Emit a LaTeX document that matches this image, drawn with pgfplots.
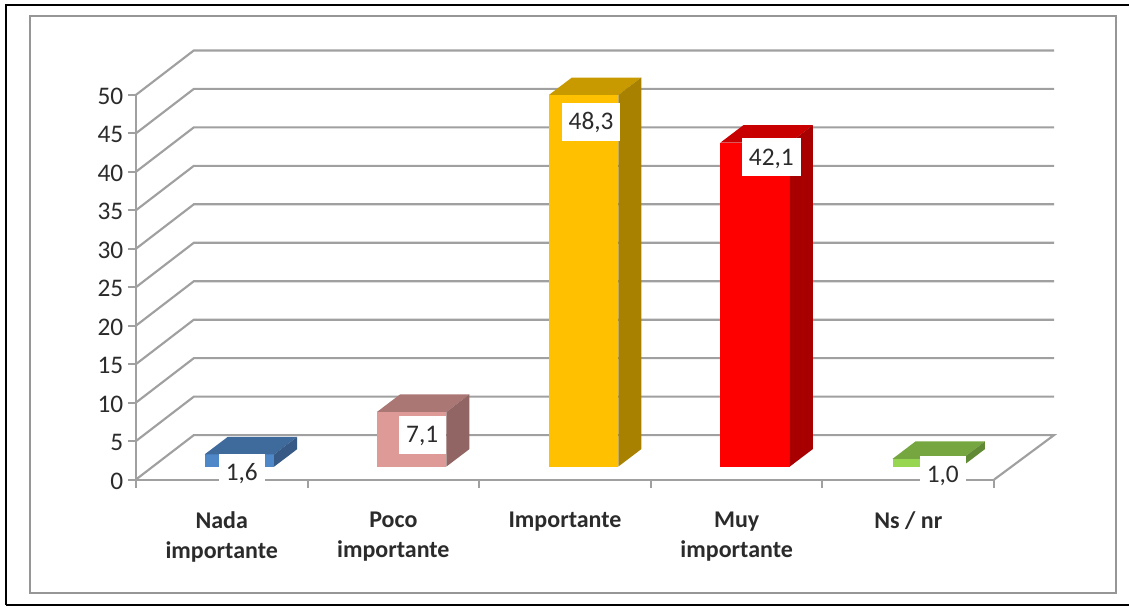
\documentclass[border=0pt]{standalone}
\usepackage{fontspec}
\setmainfont{Carlito}
\usepackage{pgfplots}
\pgfplotsset{compat=1.18}

\definecolor{gridgray}{HTML}{A0A0A0}
\definecolor{framegray}{HTML}{969696}
\definecolor{txt}{HTML}{2B2B2B}
\definecolor{blueF}{HTML}{4F88C9}
\definecolor{blueT}{HTML}{3F6A9C}
\definecolor{blueS}{HTML}{365A85}
\definecolor{pinkF}{HTML}{DD9A97}
\definecolor{pinkT}{HTML}{AB7775}
\definecolor{pinkS}{HTML}{906563}
\definecolor{goldF}{HTML}{FFC000}
\definecolor{goldT}{HTML}{C89A00}
\definecolor{goldS}{HTML}{A98100}
\definecolor{redF}{HTML}{FF0000}
\definecolor{redT}{HTML}{C80000}
\definecolor{redS}{HTML}{A80000}
\definecolor{greenF}{HTML}{96D650}
\definecolor{greenT}{HTML}{76A640}
\definecolor{greenS}{HTML}{608A34}

% left edge, value, colour prefix
\newcommand{\threedbar}[3]{%
  \pgfmathsetmacro\xa{#1}%
  \pgfmathsetmacro\xb{#1+0.4045}%
  \pgfmathsetmacro\xc{#1+0.4045+0.134}%
  \pgfmathsetmacro\xd{#1+0.134}%
  \pgfmathsetmacro\ya{1.69}%
  \pgfmathsetmacro\yb{1.69+#2}%
  \pgfmathsetmacro\yc{1.69+#2+2.27}%
  \pgfmathsetmacro\ye{1.69+2.27}%
  \edef\temp{%
    \noexpand\addplot[fill=#3F,draw=none] coordinates {(\xa,\ya)(\xb,\ya)(\xb,\yb)(\xa,\yb)} -- cycle;
    \noexpand\addplot[fill=#3T,draw=none] coordinates {(\xa,\yb)(\xb,\yb)(\xc,\yc)(\xd,\yc)} -- cycle;
    \noexpand\addplot[fill=#3S,draw=none] coordinates {(\xb,\ya)(\xc,\ye)(\xc,\yc)(\xb,\yb)} -- cycle;
  }\temp
}

\begin{document}
\begin{tikzpicture}
% outer frames, in pixels of the original
\begin{scope}[x=.75pt,y=-.75pt,xshift=-102pt,yshift=360pt]
  \fill[white] (0,0) rectangle (1130,607);
  \draw[black,line width=1.5pt] (6,605.5) -- (6,5) -- (1130,5);
  \draw[black,line width=1.5pt] (6,605.5) -- (1130,605.5);
  \draw[framegray,line width=1.5pt] (30,16.5) rectangle (1116.5,594);
\end{scope}
\begin{axis}[
    scale only axis,
    width=644.25pt,
    height=288.75pt,
    xmin=0, xmax=5,
    ymin=0, ymax=50,
    clip=false,
    axis lines=left,
    axis line style={-,gridgray,line width=1.6pt},
    xtick={0.5,1.5,2.5,3.5,4.5},
    xticklabels={{Nada\\importante},{Poco\\importante},Importante,{Muy\\importante},Ns / nr},
    minor xtick={0,1,2,3,4,5},
    ytick={0,5,...,50},
    tick align=outside,
    major x tick style={draw=none},
    minor tick length=6pt,
    major tick length=6pt,
    every tick/.style={gridgray,line width=1.5pt},
    x tick label style={align=center,font=\bfseries\fontsize{18}{22.5}\selectfont,text=txt,yshift=-14.5pt},
    y tick label style={font=\fontsize{19}{20}\selectfont,text=txt,yshift=-1pt},
    /pgf/number format/assume math mode=true,
]
% walls and floor
\addplot[gridgray,line width=1.6pt] coordinates {(0,0)(0.3376,5.78)(5.349,5.78)(5,0)};
\addplot[gridgray,line width=1.6pt] coordinates {(0,5)(0.3376,10.78)(5.349,10.78)};
\addplot[gridgray,line width=1.6pt] coordinates {(0,10)(0.3376,15.78)(5.349,15.78)};
\addplot[gridgray,line width=1.6pt] coordinates {(0,15)(0.3376,20.78)(5.349,20.78)};
\addplot[gridgray,line width=1.6pt] coordinates {(0,20)(0.3376,25.78)(5.349,25.78)};
\addplot[gridgray,line width=1.6pt] coordinates {(0,25)(0.3376,30.78)(5.349,30.78)};
\addplot[gridgray,line width=1.6pt] coordinates {(0,30)(0.3376,35.78)(5.349,35.78)};
\addplot[gridgray,line width=1.6pt] coordinates {(0,35)(0.3376,40.78)(5.349,40.78)};
\addplot[gridgray,line width=1.6pt] coordinates {(0,40)(0.3376,45.78)(5.349,45.78)};
\addplot[gridgray,line width=1.6pt] coordinates {(0,45)(0.3376,50.78)(5.349,50.78)};
\addplot[gridgray,line width=1.6pt] coordinates {(0,50)(0.3376,55.78)(5.349,55.78)};

\threedbar{0.4016}{1.6}{blue}
\threedbar{1.4045}{7.1}{pink}
\threedbar{2.4060}{48.3}{gold}
\threedbar{3.4050}{42.1}{red}
\threedbar{4.4080}{1.0}{green}

% data labels on white boxes
\tikzset{lab/.style={fill=white,inner sep=0pt,minimum height=28.5pt,text height=12pt,text depth=0pt,font=\fontsize{19}{20}\selectfont,text=txt}}
\node[lab,minimum width=34.5pt] at (axis cs:0.617,0.91) {1,6};
\node[lab,minimum width=35pt] at (axis cs:1.668,5.84) {7,1};
\node[lab,minimum width=43.5pt] at (axis cs:2.652,46.49) {48,3};
\node[lab,minimum width=44.2pt] at (axis cs:3.702,41.88) {42,1};
\node[lab,minimum width=34.5pt] at (axis cs:4.701,0.65) {1,0};
\end{axis}
\end{tikzpicture}
\end{document}
